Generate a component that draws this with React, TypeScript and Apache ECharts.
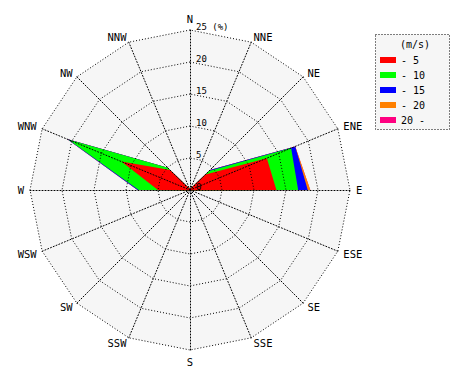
import React, { useEffect, useRef } from 'react';
import * as echarts from 'echarts';

// Compass directions, clockwise from north
const directions = ['N', 'NNE', 'NE', 'ENE', 'E', 'ESE', 'SE', 'SSE', 'S', 'SSW', 'SW', 'WSW', 'W', 'WNW', 'NW', 'NNW'];

// Wind speed classes (m/s) and their colours
const speedBands = ['- 5', '- 10', '- 15', '- 20', '20 -'];
const bandColors = ['#ff0000', '#00ff00', '#0000ff', '#ff8000', '#ff0080'];

// Frequency (%) per direction for each speed class (same order as directions)
const band0to5 = [0.3, 0.3, 3.4, 13.0, 13.5, 0.2, 0.1, 0.1, 0.1, 0.1, 0.1, 0.2, 5.0, 11.6, 4.4, 0.3];
const band5to10 = [0, 0, 0.8, 4.1, 3.4, 0.1, 0, 0, 0, 0, 0, 0.1, 3.0, 9.0, 0.5, 0];
const band10to15 = [0, 0, 0.2, 0.7, 1.5, 0.05, 0, 0, 0, 0, 0, 0, 0.2, 0.2, 0, 0];
const band15to20 = [0, 0, 0, 0, 0.4, 0, 0, 0, 0, 0, 0, 0, 0, 0, 0, 0];
const band20plus = [0, 0, 0, 0, 0, 0, 0, 0, 0, 0, 0, 0, 0, 0, 0, 0];

// Radial axis
const radialMax = 25;
const radialSplits = 5;
const radialUnit = '(%)';
const legendTitle = '(m/s)';

const bands = [band0to5, band5to10, band10to15, band15to20, band20plus];

export default function App() {
  const ref = useRef<HTMLDivElement>(null);

  useEffect(() => {
    if (!ref.current) return;
    const chart = echarts.init(ref.current, undefined, { renderer: 'svg' });

    // radar lays indicators out counter-clockwise, so reverse the compass order after N
    const order = directions.map((_, i) => (directions.length - i) % directions.length);
    const cumulative = bands.map((_, k) =>
      order.map((d) => {
        let s = 0;
        for (let j = 0; j <= k; j++) s += bands[j][d];
        return +s.toFixed(3);
      })
    );

    const dotted: any = [1, 2];
    const common = {
      center: [190, 190],
      radius: 160,
      startAngle: 90,
      splitNumber: radialSplits,
      shape: 'polygon',
    };

    const option: any = {
      animation: false,
      backgroundColor: '#ffffff',
      radar: [
        {
          ...common,
          z: 0,
          indicator: order.map((d) => ({ name: directions[d], min: 0, max: radialMax })),
          axisName: { color: '#000', fontFamily: 'DejaVu Sans Mono', fontSize: 10.5 },
          nameGap: 6,
          splitArea: { show: true, areaStyle: { color: ['#f6f6f6'] } },
          splitLine: { show: false },
          axisLine: { show: false },
          axisLabel: { show: false },
        },
        {
          ...common,
          z: 3,
          indicator: order.map((d, i) =>
            i === 0
              ? { name: directions[d], min: 0, max: radialMax, axisLabel: { show: true } }
              : { name: directions[d], min: 0, max: radialMax }
          ),
          axisName: { show: false },
          splitArea: { show: false },
          splitLine: { show: true, lineStyle: { color: '#000', width: 1, type: dotted } },
          axisLine: { show: true, lineStyle: { color: '#000', width: 1, type: dotted } },
          axisLabel: {
            show: false,
            color: '#000',
            fontFamily: 'DejaVu Sans Mono',
            fontSize: 9,
            margin: -6,
            align: 'left',
            verticalAlign: 'bottom',
            lineHeight: 6,
            formatter: (v: number) => (v === radialMax ? v + ' ' + radialUnit : String(v)),
          },
        },
      ],
      legend: {
        orient: 'vertical',
        left: 375,
        top: 49,
        itemWidth: 16,
        itemHeight: 6,
        itemGap: 3,
        icon: 'rect',
        data: speedBands,
        textStyle: { color: '#000', fontFamily: 'DejaVu Sans Mono', fontSize: 10, lineHeight: 12 },
      },
      graphic: [
        {
          type: 'rect',
          z: -1,
          shape: { x: 375.5, y: 34.5, width: 74, height: 95 },
          style: { fill: '#f6f6f6', stroke: '#000', lineWidth: 1, lineDash: [1, 2] },
        },
        {
          type: 'text',
          x: 400,
          y: 44,
          style: {
            text: legendTitle,
            fill: '#000',
            font: '10px "DejaVu Sans Mono"',
            textVerticalAlign: 'middle',
          },
        },
      ],
      series: [
        {
          type: 'radar',
          radarIndex: 0,
          z: 2,
          symbol: 'none',
          silent: true,
          data: speedBands
            .map((name, k) => ({
              name,
              value: cumulative[k],
              itemStyle: { color: bandColors[k] },
              lineStyle: { width: 0, opacity: 0 },
              areaStyle: { color: bandColors[k], opacity: 1 },
            }))
            .reverse(),
        },
      ],
    };

    chart.setOption(option);
    return () => chart.dispose();
  }, []);

  return (
    <div
      ref={ref}
      style={{ position: 'fixed', left: 0, top: 0, width: 470, height: 380 }}
    />
  );
}
